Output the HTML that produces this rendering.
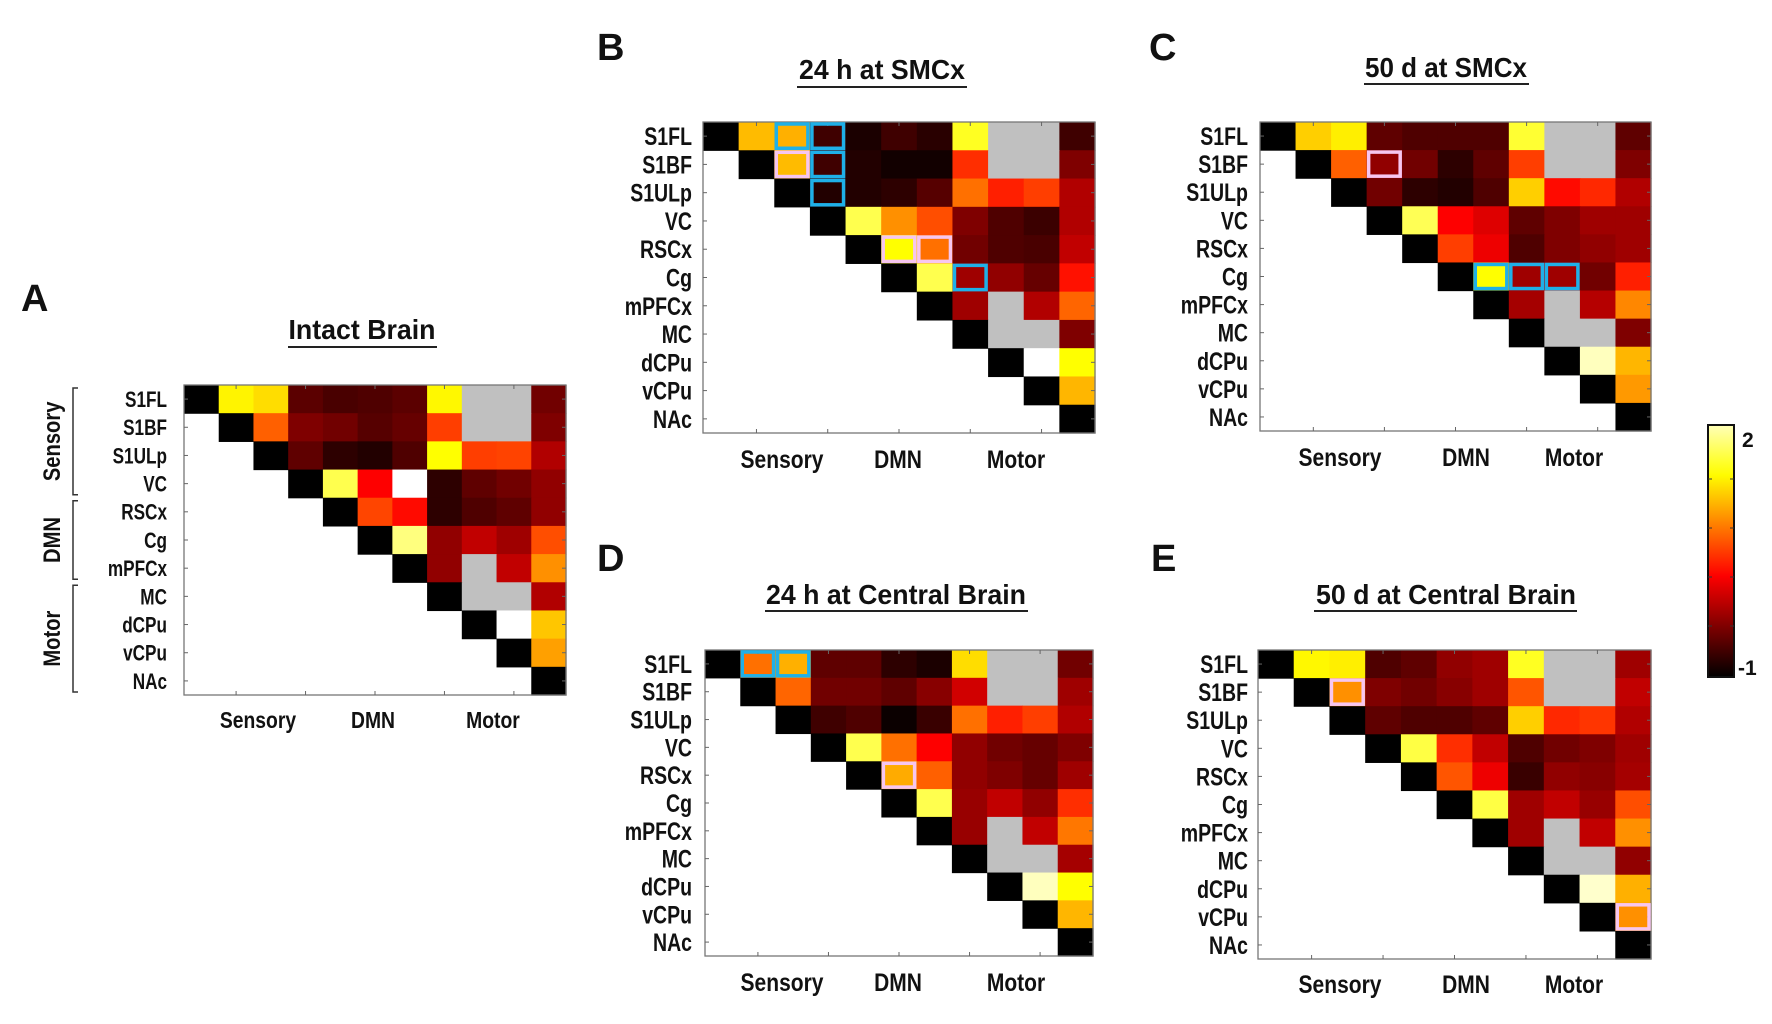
<!DOCTYPE html>
<html><head><meta charset="utf-8">
<style>
html,body{margin:0;padding:0;background:#fff;}
svg{display:block;}
text{font-family:"Liberation Sans",sans-serif;font-weight:bold;fill:#111;}
</style></head>
<body>
<svg id="fig" width="1772" height="1024" viewBox="0 0 1772 1024" xmlns="http://www.w3.org/2000/svg"></svg>
<script>
// ---- data ----
const regions = ["S1FL","S1BF","S1ULp","VC","RSCx","Cg","mPFCx","MC","dCPu","vCPu","NAc"];
const groups = ["Sensory","DMN","Motor"];
const colorbarTicks = ["2","-1"];
const vmin = -1, vmax = 2;
const G = null;   // grey (not available)
const W = 9;      // white (beyond scale)
// each row i lists columns i..10
const matA = [
 [-1,1.2,1.1,-0.6,-0.68,-0.65,-0.6,1.22,G,G,-0.5],
 [-1,0.55,-0.44,-0.5,-0.62,-0.55,0.4,G,G,-0.44],
 [-1,-0.58,-0.8,-0.85,-0.65,1.25,0.4,0.42,-0.22],
 [-1,1.48,0.12,W,-0.8,-0.58,-0.5,-0.36],
 [-1,0.43,0.17,-0.8,-0.65,-0.58,-0.36],
 [-1,1.62,-0.36,-0.15,-0.3,0.47],
 [-1,-0.36,G,-0.15,0.76],
 [-1,G,G,-0.22],
 [-1,W,1.0],
 [-1,0.83],
 [-1]];
const matB = [
 [-1,0.95,0.9,-0.72,-0.88,-0.72,-0.82,1.35,G,G,-0.72],
 [-1,0.95,-0.72,-0.85,-0.92,-0.92,0.33,G,G,-0.44],
 [-1,-0.85,-0.85,-0.8,-0.62,0.62,0.26,0.4,-0.22],
 [-1,1.48,0.76,0.47,-0.44,-0.65,-0.74,-0.22],
 [-1,1.25,0.62,-0.5,-0.65,-0.68,-0.15],
 [-1,1.48,-0.3,-0.36,-0.55,0.2],
 [-1,-0.3,G,-0.22,0.57],
 [-1,G,G,-0.44],
 [-1,W,1.25],
 [-1,0.93],
 [-1]];
const matC = [
 [-1,1.04,1.18,-0.58,-0.65,-0.65,-0.65,1.4,G,G,-0.58],
 [-1,0.55,-0.36,-0.5,-0.8,-0.58,0.4,G,G,-0.44],
 [-1,-0.5,-0.8,-0.85,-0.65,1.04,0.17,0.3,-0.22],
 [-1,1.5,0.12,-0.02,-0.58,-0.44,-0.3,-0.3],
 [-1,0.4,0.05,-0.65,-0.44,-0.36,-0.3],
 [-1,1.25,-0.3,-0.3,-0.5,0.26],
 [-1,-0.27,G,-0.2,0.72],
 [-1,G,G,-0.44],
 [-1,1.81,0.93],
 [-1,0.8],
 [-1]];
const matD = [
 [-1,0.62,0.9,-0.58,-0.58,-0.8,-0.88,1.1,G,G,-0.5],
 [-1,0.57,-0.5,-0.5,-0.58,-0.4,-0.08,G,G,-0.3],
 [-1,-0.72,-0.65,-0.95,-0.75,0.62,0.26,0.4,-0.22],
 [-1,1.48,0.62,0.12,-0.36,-0.5,-0.55,-0.44],
 [-1,0.88,0.55,-0.36,-0.44,-0.55,-0.3],
 [-1,1.48,-0.33,-0.15,-0.36,0.33],
 [-1,-0.33,G,-0.15,0.65],
 [-1,G,G,-0.27],
 [-1,1.81,1.25],
 [-1,0.93],
 [-1]];
const matE = [
 [-1,1.22,1.18,-0.65,-0.58,-0.36,-0.3,1.35,G,G,-0.3],
 [-1,0.76,-0.44,-0.5,-0.4,-0.3,0.5,G,G,-0.15],
 [-1,-0.58,-0.65,-0.65,-0.58,1.04,0.3,0.36,-0.22],
 [-1,1.45,0.33,-0.15,-0.65,-0.5,-0.44,-0.3],
 [-1,0.5,0.05,-0.75,-0.36,-0.4,-0.27],
 [-1,1.45,-0.3,-0.15,-0.33,0.47],
 [-1,-0.3,G,-0.15,0.76],
 [-1,G,G,-0.36],
 [-1,1.85,0.9],
 [-1,0.76],
 [-1]];
// highlighted cells [row, col]
const blueB = [[0,2],[0,3],[1,3],[2,3],[5,7]];
const pinkB = [[1,2],[4,5],[4,6]];
const blueC = [[5,6],[5,7],[5,8]];
const pinkC = [[1,3]];
const blueD = [[0,1],[0,2]];
const pinkD = [[4,5]];
const blueE = [];
const pinkE = [[1,2],[9,10]];

// ---- layout ----
const panels = [
 {id:"a",letter:"A",title:"Intact Brain",mat:matA,blue:[],pink:[],x:184,y:385,w:382,h:310,lab:167,fs:22,
  lx:21,ly:311,tx:362,ty:339,tl:147,ul:[288,437,347],xly:728,xl:[258,373,493],xfs:23,brackets:true},
 {id:"b",letter:"B",title:"24 h at SMCx",mat:matB,blue:blueB,pink:pinkB,x:703,y:122,w:392,h:311,lab:692,fs:25,
  lx:597,ly:60,tx:882,ty:79,tl:166,ul:[797,967,87],xly:468,xl:[782,898,1016],xfs:25},
 {id:"c",letter:"C",title:"50 d at SMCx",mat:matC,blue:blueC,pink:pinkC,x:1260,y:122,w:391,h:309,lab:1248,fs:25,
  lx:1149,ly:60,tx:1446,ty:77,tl:162,ul:[1364,1529,84],xly:466,xl:[1340,1466,1574],xfs:25},
 {id:"d",letter:"D",title:"24 h at Central Brain",mat:matD,blue:blueD,pink:pinkD,x:705,y:650,w:388,h:306,lab:692,fs:25,
  lx:597,ly:571,tx:896,ty:604,tl:260,ul:[765,1028,611],xly:991,xl:[782,898,1016],xfs:25},
 {id:"e",letter:"E",title:"50 d at Central Brain",mat:matE,blue:blueE,pink:pinkE,x:1258,y:650,w:393,h:309,lab:1248,fs:25,
  lx:1151,ly:571,tx:1446,ty:604,tl:260,ul:[1314,1577,611],xly:993,xl:[1340,1466,1574],xfs:25}
];

const NS = "http://www.w3.org/2000/svg";
const svg = document.getElementById("fig");
function mk(tag, attrs, parent){
  const e = document.createElementNS(NS, tag);
  for (const k in attrs) e.setAttribute(k, attrs[k]);
  (parent||svg).appendChild(e);
  return e;
}
function squeeze(t, f){
  const L = t.getComputedTextLength();
  if (L > 0) { t.setAttribute("textLength", (L*f).toFixed(1)); t.setAttribute("lengthAdjust", "spacingAndGlyphs"); }
}
function hot(v){
  if (v === null) return "#c0c0c0";
  let t = (v - vmin) / (vmax - vmin);
  t = Math.max(0, Math.min(1, t));
  const r = Math.min(1, t/0.375);
  const g = Math.max(0, Math.min(1, (t-0.375)/0.375));
  const b = Math.max(0, Math.min(1, (t-0.75)/0.25));
  const c = x => Math.round(x*255);
  return "rgb(" + c(r) + "," + c(g) + "," + c(b) + ")";
}

panels.forEach(p => {
  const n = regions.length;
  const cw = p.w / n, ch = p.h / n;
  const xs = c => p.x + c*cw;
  const ys = r => p.y + r*ch;
  const g = mk("g", {});
  
  

  const L = mk("text", {x:p.lx, y:p.ly, "font-size":38}, g);
  L.textContent = p.letter;
  
  

  const T = mk("text", {x:p.tx, y:p.ty, "font-size":28, "text-anchor":"middle", textLength:p.tl, lengthAdjust:"spacingAndGlyphs"}, g);
  T.textContent = p.title;
  
  
  const U = mk("line", {x1:p.ul[0], x2:p.ul[1], y1:p.ul[2], y2:p.ul[2], stroke:"#222", "stroke-width":2}, g);
  
  

  p.mat.forEach((row, r) => {
    row.forEach((v, k) => {
      const c = r + k;
      const rc = mk("rect", {x:xs(c), y:ys(r), width:cw+0.6, height:ch+0.6, fill:hot(v)}, g);
      
      
    });
  });
  const F = mk("rect", {x:p.x, y:p.y, width:p.w, height:p.h, fill:"none", stroke:"#777", "stroke-width":1.3}, g);
  
  
  for (let r = 0; r < n; r++) {
    const yy = ys(r) + ch/2;
    mk("line", {x1:p.x, x2:p.x+4, y1:yy, y2:yy, stroke:"#666", "stroke-width":1}, g);
    mk("line", {x1:p.x+p.w-4, x2:p.x+p.w, y1:yy, y2:yy, stroke:"#666", "stroke-width":1}, g);
    const lt = mk("text", {x:p.lab, y:yy + p.fs*0.36, "font-size":p.fs, "text-anchor":"end"}, g);
    lt.textContent = regions[r];
    
    
    squeeze(lt, 0.78);
  }
  for (let c = 1; c < n; c += 2) {
    const xx = xs(c) + cw/2;
    mk("line", {x1:xx, x2:xx, y1:p.y+p.h, y2:p.y+p.h-4, stroke:"#666", "stroke-width":1}, g);
    mk("line", {x1:xx, x2:xx, y1:p.y, y2:p.y+4, stroke:"#666", "stroke-width":1}, g);
  }
  groups.forEach((gn, i) => {
    const t = mk("text", {x:p.xl[i], y:p.xly, "font-size":p.xfs, "text-anchor":"middle"}, g);
    t.textContent = gn;
    
    
    squeeze(t, 0.84);
  });
  [[p.blue,"#1fb0e8","blue"],[p.pink,"#f7c6ef","pink"]].forEach(([list,col,nm]) => {
    list.forEach(([r,c]) => {
      const b = mk("rect", {x:xs(c)+2, y:ys(r)+2, width:cw-4, height:ch-4, fill:"none", stroke:col, "stroke-width":3.5}, g);
      
      
    });
  });
  if (p.brackets) {
    const spans = [[0,4],[4,7],[7,11]];
    spans.forEach((s, i) => {
      const y1 = ys(s[0]) + 3, y2 = ys(s[1]) - 3;
      const br = mk("path", {d:"M78 " + y1 + " H73 V" + y2 + " H78", fill:"none", stroke:"#333", "stroke-width":1.5}, g);
      
      
      const cy = (y1 + y2) / 2;
      const bt = mk("text", {x:0, y:0, "font-size":24, "text-anchor":"middle", transform:"translate(60," + cy + ") rotate(-90)"}, g);
      bt.textContent = groups[i];
      
      
      squeeze(bt, 0.84);
    });
  }
});

// colorbar
const defs = mk("defs", {});
const lg = mk("linearGradient", {id:"cbg", x1:0, y1:1, x2:0, y2:0}, defs);
for (let i = 0; i <= 20; i++) {
  const v = vmin + (vmax - vmin) * i / 20 * 0.93;
  mk("stop", {offset:(i/20), "stop-color":hot(v)}, lg);
}
const cb = mk("rect", {x:1708, y:425, width:26, height:252, fill:"url(#cbg)", stroke:"#111", "stroke-width":2});


[479,528,577,626].forEach(yy => {
  mk("line", {x1:1708, x2:1712, y1:yy, y2:yy, stroke:"#333", "stroke-width":1});
  mk("line", {x1:1730, x2:1734, y1:yy, y2:yy, stroke:"#333", "stroke-width":1});
});
const cbTop = mk("text", {x:1742, y:447, "font-size":21});
cbTop.textContent = colorbarTicks[0];


const cbBot = mk("text", {x:1738, y:675, "font-size":21});
cbBot.textContent = colorbarTicks[1];


</script>
</body></html>
